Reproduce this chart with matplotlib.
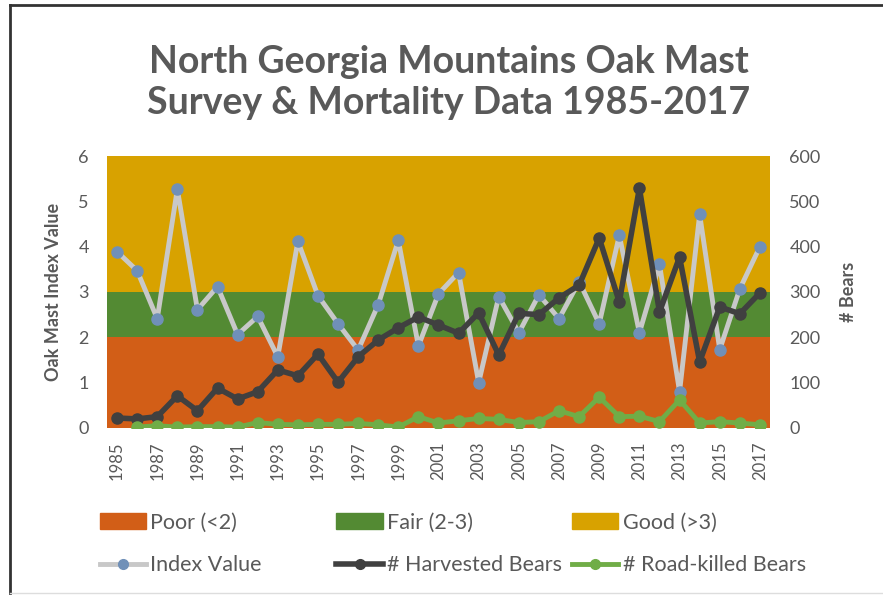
import numpy as np
import matplotlib as mpl
import matplotlib.pyplot as plt
from matplotlib.patches import Patch
from matplotlib.lines import Line2D

mpl.rcParams['font.family'] = ['Lato', 'DejaVu Sans']

#categories
years = list(range(1985, 2018))
#oak mast index (left axis)
index_value = [3.89, 3.47, 2.41, 5.27, 2.61, 3.12, 2.06, 2.46, 1.57, 4.12, 2.92,
               2.30, 1.72, 2.72, 4.14, 1.81, 2.96, 3.43, 1.00, 2.90, 2.10, 2.94,
               2.41, 3.23, 2.30, 4.25, 2.10, 3.61, 0.80, 4.71, 1.73, 3.07, 4.00]
#bears (right axis)
harvested = [22, 20, 25, 71, 38, 88, 64, 80, 128, 115, 163, 101, 157, 194, 221, 245,
             227, 209, 254, 161, 253, 250, 287, 315, 419, 278, 529, 256, 377, 146,
             267, 252, 298]
road_killed = [np.nan, 2, 5, 2, 3, 3, 2, 12, 8, 7, 8, 8, 10, 7, 2, 25, 11, 16, 21,
               19, 12, 14, 38, 25, 68, 25, 26, 14, 62, 11, 14, 11, 7]
#mast classes
band_labels = ['Poor (<2)', 'Fair (2-3)', 'Good (>3)']
band_limits = [0, 2, 3, 6]
band_colors = ['#D25E17', '#538A33', '#D8A200']

txt = '#595959'

fig = plt.figure(figsize=(8.83, 5.95), dpi=100)
ax = fig.add_axes([0.1212, 0.2807, 0.7508, 0.4571])

#background bands
for i in range(3):
    ax.axhspan(band_limits[i], band_limits[i + 1], color=band_colors[i], lw=0, zorder=0)

ax.plot(years, index_value, color='#C8C8C8', lw=3.5, marker='o', ms=8,
        mfc='#7090B8', mec='#7090B8', zorder=3)
ax.set_xlim(1984.5, 2017.5)
ax.set_ylim(0, 6)
ax.set_yticks(range(0, 7))
ax.set_xticks(years[::2])
ax.tick_params(axis='x', length=0, labelrotation=90, labelsize=12, labelcolor=txt, pad=10)
ax.tick_params(axis='y', length=0, labelsize=13, labelcolor=txt, pad=13)
ax.set_ylabel('Oak Mast Index Value', fontsize=13, fontweight='bold', color=txt, labelpad=12)
for s in ax.spines.values():
    s.set_visible(False)

ax2 = ax.twinx()
ax2.plot(years, harvested, color='#404040', lw=4, marker='o', ms=8, zorder=3)
ax2.plot(years, road_killed, color='#70AD47', lw=3.5, marker='o', ms=8, zorder=4)
ax2.set_ylim(0, 600)
ax2.set_yticks(range(0, 700, 100))
ax2.tick_params(axis='y', length=0, labelsize=13, labelcolor=txt, pad=14)
ax2.set_ylabel('# Bears', fontsize=13, fontweight='bold', color=txt, labelpad=14)
for s in ax2.spines.values():
    s.set_visible(False)

fig.text(0.508, 0.862, 'North Georgia Mountains Oak Mast\nSurvey & Mortality Data 1985-2017',
         ha='center', va='center', fontsize=27, fontweight='bold', color=txt, linespacing=1.25)

#legend: three fixed columns like excel
h_poor = Patch(color=band_colors[0], label=band_labels[0])
h_fair = Patch(color=band_colors[1], label=band_labels[1])
h_good = Patch(color=band_colors[2], label=band_labels[2])
h_idx = Line2D([], [], color='#C8C8C8', lw=3.5, marker='o', ms=7, mfc='#7090B8', mec='#7090B8', label='Index Value')
h_har = Line2D([], [], color='#404040', lw=4, marker='o', ms=7, label='# Harvested Bears')
h_road = Line2D([], [], color='#70AD47', lw=3.5, marker='o', ms=7, label='# Road-killed Bears')
cols = [[h_poor, h_idx], [h_fair, h_har], [h_good, h_road]]
col_x = [0.113, 0.381, 0.648]
for hs, x in zip(cols, col_x):
    leg = fig.legend(handles=hs, loc='upper left', bbox_to_anchor=(x, 0.138), frameon=False,
                     fontsize=15.5, handlelength=2.15, handleheight=0.75, handletextpad=0.2,
                     labelspacing=1.05, borderpad=0, borderaxespad=0)
    for t in leg.get_texts():
        t.set_color(txt)

#screenshot frame
fig.add_artist(Line2D([0.011, 0.011], [0.003, 0.992], color='#333333', lw=2, transform=fig.transFigure))
fig.add_artist(Line2D([0.011, 1.0], [0.992, 0.992], color='#333333', lw=2, transform=fig.transFigure))
fig.add_artist(Line2D([0.011, 1.0], [0.004, 0.004], color='#DDDDDD', lw=1, transform=fig.transFigure))

plt.savefig('out.png', dpi=100)
